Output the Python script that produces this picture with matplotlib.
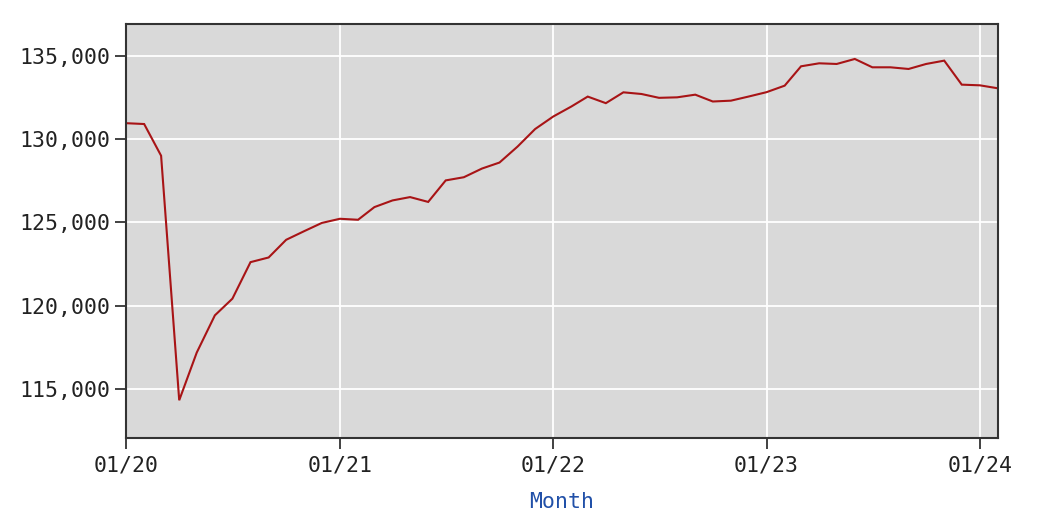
import matplotlib
matplotlib.use("Agg")
import matplotlib.pyplot as plt
import matplotlib.dates as mdates
import matplotlib.ticker as mticker
import pandas as pd

months = pd.date_range("2020-01-01", "2024-02-01", freq="MS")
values = [
    130950, 130900, 129000, 114340, 117200, 119430, 120430, 122620, 122900, 123960, 124480, 124970,  # 2020
    125220, 125160, 125920, 126320, 126520, 126230, 127520, 127710, 128230, 128590, 129550, 130600,  # 2021
    131350, 131950, 132545, 132150, 132800, 132700, 132470, 132500, 132660, 132250, 132300, 132545,  # 2022
    132810, 133200, 134360, 134540, 134500, 134800, 134300, 134300, 134200, 134500, 134700, 133260,  # 2023
    133220, 133040,  # 2024
]
tick_dates = pd.to_datetime(["2020-01-01", "2021-01-01", "2022-01-01", "2023-01-01", "2024-01-01"])
tick_labels = ["01/20", "01/21", "01/22", "01/23", "01/24"]

plt.rcParams['font.family'] = ['DejaVu Sans Mono']

fig = plt.figure(figsize=(10.6, 5.26), dpi=100)
ax = fig.add_axes([0.1189, 0.168, 0.8226, 0.7865])
ax.set_facecolor("#d9d9d9")

ax.plot(months, values, color="#a81416", linewidth=1.5, solid_joinstyle="miter")

ax.set_xlim(months[0], months[-1])
ax.set_ylim(112100, 136900)
ax.set_xticks(tick_dates)
ax.set_xticklabels(tick_labels)
ax.set_yticks([115000, 120000, 125000, 130000, 135000])
ax.yaxis.set_major_formatter(mticker.FuncFormatter(lambda v, p: f"{int(v):,}"))

ax.grid(True, color="white", linewidth=1.3)
ax.set_axisbelow(True)
for s in ax.spines.values():
    s.set_color("#333333")
    s.set_linewidth(1.5)

ax.tick_params(axis="both", direction="out", length=8, width=1.3, color="#333333",
               labelsize=15.5, labelcolor="#222222", pad=3)
ax.tick_params(axis="x", pad=5)

ax.set_xlabel("Month", color="#2150a8", fontsize=15.5, labelpad=12)

fig.savefig("out.png", dpi=100)
